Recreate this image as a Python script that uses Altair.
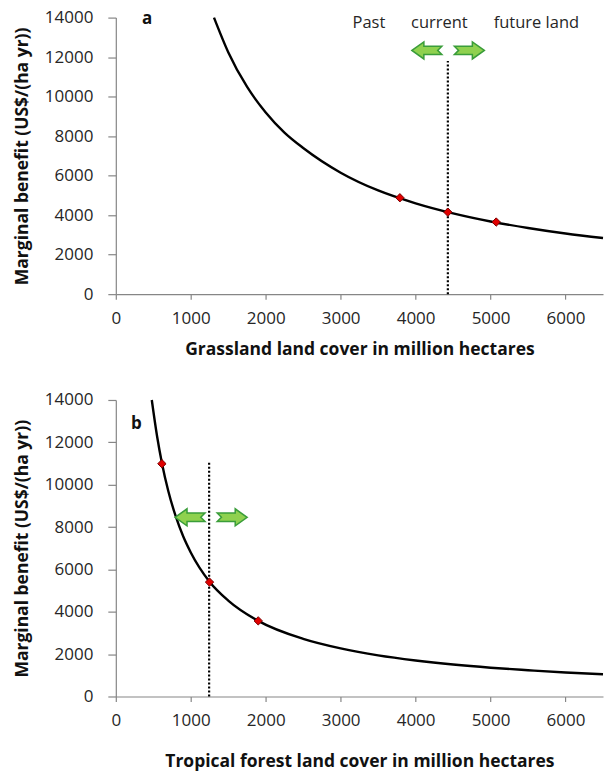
import altair as alt
import pandas as pd

# ---------------- Panel a: grassland ----------------
a_curve_x = [1310, 1500, 1750, 2000, 2250, 2500, 3000, 3500, 4000, 4500, 5000, 5500, 6000, 6500]
a_curve_y = [14000, 12250, 10500, 9200, 8180, 7400, 6150, 5250, 4600, 4090, 3680, 3350, 3070, 2840]
a_pts_x = [3790, 4430, 5075]
a_pts_y = [4880, 4150, 3650]
a_current_x = 4430
a_current_top = 11800
a_arrow_y = 12340
a_arrow_left_x = 4150
a_arrow_right_x = 4717
a_labels = ["Past", "current", "future land"]
a_labels_x = [3377, 4317, 5611]
a_labels_y = [13750, 13750, 13750]
a_letter = ("a", 417, 13935)

# ---------------- Panel b: tropical forest ----------------
b_curve_x = [480, 550, 617, 700, 800, 900, 1000, 1250, 1500, 1900, 2500, 3000, 3500,
             4000, 4500, 5000, 5500, 6000, 6500]
b_curve_y = [14000, 12300, 10990, 9700, 8500, 7550, 6800, 5420, 4530, 3570, 2720, 2270, 1940,
             1700, 1510, 1360, 1240, 1130, 1050]
b_pts_x = [615, 1250, 1900]
b_pts_y = [10990, 5400, 3570]
b_current_x = 1245
b_current_top = 11100
b_arrow_y = 8460
b_arrow_left_x = 990
b_arrow_right_x = 1553
b_letter = ("b", 274, 12850)

x_ticks = [0, 1000, 2000, 3000, 4000, 5000, 6000]
y_ticks = [0, 2000, 4000, 6000, 8000, 10000, 12000, 14000]

FONT = "Open Sans"
LEFT_ARROW = "M -1 0 L -0.2 -0.57 L -0.2 -0.28 L 1 -0.28 L 0.72 0 L 1 0.28 L -0.2 0.28 L -0.2 0.57 Z"
RIGHT_ARROW = "M 1 0 L 0.2 -0.57 L 0.2 -0.28 L -1 -0.28 L -0.72 0 L -1 0.28 L 0.2 0.28 L 0.2 0.57 Z"


def panel(cx, cy, px, py, cur_x, cur_top, arr_y, arr_lx, arr_rx, letter, xtitle, height,
          xtitle_pad, labels=None):
    xs = alt.Scale(domain=[0, 6500], nice=False, zero=False)
    ys = alt.Scale(domain=[0, 14000], nice=False)
    xax = alt.Axis(values=x_ticks, title=xtitle, tickSize=5, labelPadding=11,
                   titlePadding=xtitle_pad, format="d", labelOverlap=False, labelFlush=False)
    yax = alt.Axis(values=y_ticks, title="Marginal benefit (US$/(ha yr))", tickSize=8,
                   labelPadding=15, titlePadding=13, format="d", labelOverlap=False,
                   labelFlush=False)

    curve_df = pd.DataFrame({"x": cx, "y": cy})
    curve = alt.Chart(curve_df).mark_line(color="black", strokeWidth=2.4,
                                          interpolate="monotone").encode(
        x=alt.X("x:Q", scale=xs, axis=xax),
        y=alt.Y("y:Q", scale=ys, axis=yax),
    )

    rule_df = pd.DataFrame({"x": [cur_x], "y": [0], "y2": [cur_top]})
    rule = alt.Chart(rule_df).mark_rule(color="black", strokeWidth=2.2,
                                        strokeDash=[2, 2]).encode(
        x=alt.X("x:Q", scale=xs, axis=xax),
        y=alt.Y("y:Q", scale=ys, axis=yax), y2="y2:Q")

    pts_df = pd.DataFrame({"x": px, "y": py})
    pts = alt.Chart(pts_df).mark_point(shape="diamond", filled=True, size=70,
                                       fill="#e00000", stroke="#7a0000",
                                       strokeWidth=1, opacity=1).encode(
        x=alt.X("x:Q", scale=xs, axis=xax),
        y=alt.Y("y:Q", scale=ys, axis=yax))

    larr = alt.Chart(pd.DataFrame({"x": [arr_lx], "y": [arr_y]})).mark_point(
        shape=LEFT_ARROW, size=900, filled=True, fill="#8fd14f", stroke="#3a9d3a",
        strokeWidth=1.5, opacity=1).encode(
        x=alt.X("x:Q", scale=xs, axis=xax),
        y=alt.Y("y:Q", scale=ys, axis=yax))
    rarr = alt.Chart(pd.DataFrame({"x": [arr_rx], "y": [arr_y]})).mark_point(
        shape=RIGHT_ARROW, size=900, filled=True, fill="#8fd14f", stroke="#3a9d3a",
        strokeWidth=1.5, opacity=1).encode(
        x=alt.X("x:Q", scale=xs, axis=xax),
        y=alt.Y("y:Q", scale=ys, axis=yax))

    let_df = pd.DataFrame({"t": [letter[0]], "x": [letter[1]], "y": [letter[2]]})
    let = alt.Chart(let_df).mark_text(font=FONT, fontSize=17, fontWeight="bold",
                                      color="#111111", align="center",
                                      baseline="middle").encode(
        x=alt.X("x:Q", scale=xs, axis=xax),
        y=alt.Y("y:Q", scale=ys, axis=yax), text="t:N")

    layers = [curve, rule, pts, larr, rarr, let]
    if labels is not None:
        lab_df = pd.DataFrame({"t": labels[0], "x": labels[1], "y": labels[2]})
        lab = alt.Chart(lab_df).mark_text(font=FONT, fontSize=16.5, color="#262626",
                                          align="center", baseline="middle").encode(
            x=alt.X("x:Q", scale=xs, axis=xax),
            y=alt.Y("y:Q", scale=ys, axis=yax), text="t:N")
        layers.append(lab)

    return alt.layer(*layers).properties(width=488, height=height)


pa = panel(a_curve_x, a_curve_y, a_pts_x, a_pts_y, a_current_x, a_current_top, a_arrow_y,
           a_arrow_left_x, a_arrow_right_x, a_letter,
           "Grassland land cover in million hectares", 277, 14,
           labels=(a_labels, a_labels_x, a_labels_y))
pb = panel(b_curve_x, b_curve_y, b_pts_x, b_pts_y, b_current_x, b_current_top, b_arrow_y,
           b_arrow_left_x, b_arrow_right_x, b_letter,
           "Tropical forest land cover in million hectares", 297, 24)

chart = alt.vconcat(pa, pb, spacing=33).properties(
    padding={"left": 13, "top": 8, "right": 0, "bottom": 0},
    background="white",
).configure_view(stroke=None).configure_axis(
    grid=False,
    labelOverlap=False,
    domainColor="#868686",
    tickColor="#868686",
    domainWidth=1.2,
    tickWidth=1.2,
    labelFont=FONT,
    labelFontSize=17,
    labelColor="#262626",
    titleFont=FONT,
    titleFontSize=17.5,
    titleFontWeight="bold",
    titleColor="#111111",
)

chart.save("out.html", embed_options={"renderer": "svg", "actions": False})
